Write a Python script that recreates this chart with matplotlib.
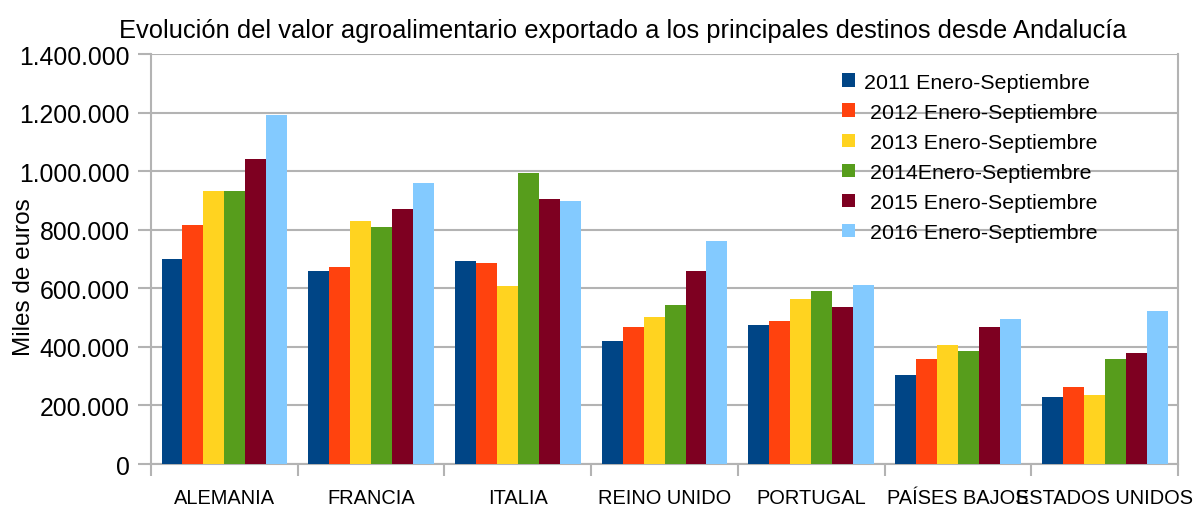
import numpy as np
import matplotlib as mpl
mpl.use('Agg')
from matplotlib import pyplot as plt
from matplotlib.ticker import FuncFormatter

plt.rcParams['font.family'] = ['Liberation Sans', 'DejaVu Sans']

paises = ['ALEMANIA', 'FRANCIA', 'ITALIA', 'REINO UNIDO', 'PORTUGAL', 'PAÍSES BAJOS', 'ESTADOS UNIDOS']
series = ['2011 Enero-Septiembre', ' 2012 Enero-Septiembre', ' 2013 Enero-Septiembre',
          ' 2014Enero-Septiembre', ' 2015 Enero-Septiembre', ' 2016 Enero-Septiembre']
v2011 = [700000, 659000, 693000, 420000, 475000, 304000, 229000]
v2012 = [816000, 673000, 686000, 468000, 488000, 359000, 263000]
v2013 = [932000, 830000, 608000, 502000, 563000, 406000, 236000]
v2014 = [932000, 809000, 994000, 543000, 591000, 386000, 359000]
v2015 = [1041000, 871000, 905000, 659000, 536000, 468000, 379000]
v2016 = [1192000, 960000, 898000, 761000, 611000, 495000, 522000]
valores = [v2011, v2012, v2013, v2014, v2015, v2016]
colores = ['#004586', '#ff420e', '#ffd320', '#579d1c', '#7e0021', '#83caff']

fig = plt.figure(figsize=(11.96, 5.06), dpi=100)
ax = fig.add_axes([0.1263, 0.081, 0.8587, 0.81])

x = np.arange(len(paises))
w = 1.0 / 7
for i in range(len(series)):
    ax.bar(x - 3 * w + w / 2 + i * w, valores[i], width=w, color=colores[i],
           label=series[i], zorder=3)

gris = '#b3b3b3'
ax.set_xlim(-0.5, len(paises) - 0.5)
ax.set_ylim(0, 1400000)
ax.set_yticks(np.arange(0, 1400001, 200000))
ax.yaxis.set_major_formatter(FuncFormatter(lambda v, p: '{:,.0f}'.format(v).replace(',', '.')))
ax.grid(axis='y', color=gris, linewidth=1.5, zorder=0)
ax.set_axisbelow(True)

ax.set_xticks(x)
ax.set_xticklabels(paises, fontsize=14.4)
ax.set_xticks(np.arange(-0.5, len(paises), 1), minor=True)
ax.tick_params(axis='x', which='major', length=0, pad=17.5)
ax.tick_params(axis='x', which='minor', length=8.5, width=1.5, color=gris)
ax.tick_params(axis='y', length=9.5, width=1.5, color=gris, labelsize=17.8, pad=6)

for s in ['left', 'bottom', 'right']:
    ax.spines[s].set_color(gris)
    ax.spines[s].set_linewidth(1.5)
ax.spines['top'].set_visible(False)

ax.set_ylabel('Miles de euros', fontsize=17.5)
ax.yaxis.set_label_coords(-0.113, 0.459)
fig.text(0.521, 1 - 38 / 506, 'Evolución del valor agroalimentario exportado a los principales destinos desde Andalucía',
         fontsize=18.4, ha='center', va='baseline')

ax.legend(loc='upper left', bbox_to_anchor=(0.673, 0.955), frameon=False, fontsize=15.4,
          borderpad=0, borderaxespad=0,
          handlelength=0.6, handleheight=0.6, handletextpad=0.42, labelspacing=0.52)

plt.savefig('out.png')
